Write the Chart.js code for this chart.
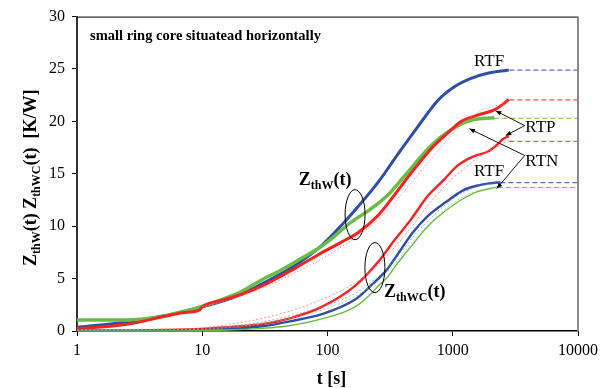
<!DOCTYPE html>
<html><head><meta charset="utf-8">
<script src="https://cdn.jsdelivr.net/npm/chart.js@4.4.0/dist/chart.umd.min.js"></script>
<style>html,body{margin:0;padding:0;background:#fff}#wrap{width:603px;height:388px}</style>
</head><body><div id="wrap"><canvas id="c" width="603" height="388"></canvas></div>
<script>
// ---- axis ticks ----
const xTicks = [1, 10, 100, 1000, 10000];
const yTicks = [0, 5, 10, 15, 20, 25, 30];

// ---- Z_thW(t) measured curves ----
const rtfW_t = [1,2,3,5,7,10,15,20,30,46,59,85,100,139,182,254,366,527,760,1031,1397,1896,2800];
const rtfW_z = [0.35,0.72,1.0,1.45,1.85,2.3,2.9,3.45,4.5,5.7,6.5,7.9,8.7,10.5,12.1,14.2,16.9,19.5,22.0,23.3,24.1,24.6,24.9];
const rtnW_t = [1,2,3,5,7,10,15,20,30,41,59,85,100,155,225,305,413,673,970,1397,2150];
const rtnW_z = [1.05,1.05,1.1,1.45,1.85,2.35,3.1,3.7,4.9,5.7,6.8,7.9,8.5,10.4,11.7,13.0,14.8,17.7,19.2,20.1,20.35];
const rtpW_t = [1,2,3,5,7,9.5,10,15,20,30,50,59,85,130,176,254,305,467,673,913,1164,1578,2143,2495,2800];
const rtpW_z = [0.22,0.5,0.82,1.4,1.75,2.0,2.3,3.0,3.45,4.3,5.7,6.2,7.3,8.5,9.4,11.05,12.2,15.1,17.4,18.9,20.0,20.6,21.1,21.6,22.1];

// ---- Z_thWC(t) measured curves ----
const rtpWC_t = [1,2,5,10,20,30,50,90,166,254,344,467,633,860,1096,1316,1578,1896,2275,2500,2800];
const rtpWC_z = [0.05,0.05,0.1,0.2,0.45,0.65,1.2,2.3,4.3,6.6,8.7,10.7,12.9,14.5,15.8,16.4,16.8,17.1,17.8,18.3,18.6];
const rtfWC_t = [1,5,10,20,30,49,90,166,225,300,344,480,650,880,1200,1600,2000,2400];
const rtfWC_z = [0.0,0.05,0.1,0.25,0.45,0.9,1.6,3.0,4.4,5.9,6.9,9.4,11.1,12.3,13.4,13.9,14.1,14.2];
const rtnWC_t = [1,5,10,20,30,49,90,166,225,254,305,344,467,633,860,1164,1578,2000,2300];
const rtnWC_z = [0.0,0.0,0.05,0.15,0.25,0.5,1.15,2.3,3.6,4.3,5.2,6.1,8.1,10.0,11.4,12.5,13.3,13.6,13.75];

// ---- model (dotted) curves ----
const modW_t = [10,20,30,50,100,200,300,500,1000,1600,2800];
const modW_z = [2.3,3.3,4.1,5.3,7.2,9.6,11.5,14.6,18.8,20.9,21.8];
const modPWC_t = [1,3,10,20,30,50,90,166,254,344,467,633,860,1096,1578,2275,2800];
const modPWC_z = [0.1,0.15,0.3,0.8,1.2,1.9,3.0,4.6,6.3,8.0,9.9,12.0,13.8,15.0,16.5,17.6,18.2];
const modFWC_t = [1,3,10,20,30,50,90,166,254,344,500,700,1000,1500,2400];
const modFWC_z = [0.05,0.1,0.2,0.55,0.85,1.45,2.3,3.6,5.2,6.8,9.2,11.0,12.6,13.7,14.2];
const modNWC_t = [1,3,10,20,30,50,90,166,254,344,500,700,1000,1500,2300];
const modNWC_z = [0.1,0.12,0.15,0.45,0.7,1.2,2.0,3.3,4.8,6.4,8.8,10.6,12.2,13.3,13.7];

// ---- steady-state (dashed) levels: start time, level ----
const steadyStart = [2830, 2830, 2150, 2830, 2400, 2300];
const steadyLevel = [24.9, 22.05, 20.3, 18.1, 14.15, 13.7];

const BLUE = '#2f4ea8', RED = '#f52323', GREEN = '#68bd44';
const steadyColor = [BLUE, RED, GREEN, RED, BLUE, GREEN];

const pts = (t, z) => t.map((v, i) => ({x: v, y: z[i]}));
const line = (t, z, color, w, extra) => Object.assign({
  data: pts(t, z), borderColor: color, borderWidth: w, pointRadius: 0,
  cubicInterpolationMode: 'monotone', fill: false
}, extra || {});

const datasets = [
  line(modW_t, modW_z, 'rgba(245,120,120,0.8)', 1, {borderDash: [1.5, 2]}),
  line(modPWC_t, modPWC_z, 'rgba(245,120,120,0.8)', 1, {borderDash: [2, 2]}),
  line(modFWC_t, modFWC_z, 'rgba(120,140,200,0.7)', 1, {borderDash: [2, 2]}),
  line(modNWC_t, modNWC_z, 'rgba(150,200,130,0.7)', 1, {borderDash: [2, 2]}),
  line(rtnWC_t, rtnWC_z, GREEN, 1.4),
  line(rtfWC_t, rtfWC_z, BLUE, 2.4),
  line(rtpWC_t, rtpWC_z, RED, 2.4),
  line(rtpW_t, rtpW_z, RED, 3),
  line(rtnW_t, rtnW_z, GREEN, 3.4),
  line(rtfW_t, rtfW_z, BLUE, 3),
];
steadyStart.forEach((s, i) => {
  datasets.push({data: [{x: s, y: steadyLevel[i]}, {x: 10000, y: steadyLevel[i]}],
    borderColor: steadyColor[i], borderWidth: 1, borderDash: [5, 3], pointRadius: 0, fill: false});
});

const SERIF = '"Liberation Serif", "Times New Roman", serif';

function richText(ctx, parts, x, y) {
  let cx = x;
  for (const [txt, size, dy] of parts) {
    ctx.font = 'bold ' + size + 'px ' + SERIF;
    ctx.fillText(txt, cx, y + dy);
    cx += ctx.measureText(txt).width;
  }
  return cx - x;
}
function richWidth(ctx, parts) {
  let w = 0;
  for (const [txt, size] of parts) { ctx.font = 'bold ' + size + 'px ' + SERIF; w += ctx.measureText(txt).width; }
  return w;
}
function arrow(ctx, x1, y1, x2, y2) {
  ctx.beginPath(); ctx.moveTo(x1, y1); ctx.lineTo(x2, y2); ctx.stroke();
  const a = Math.atan2(y2 - y1, x2 - x1), L = 6, W = 0.4;
  ctx.beginPath();
  ctx.moveTo(x2, y2);
  ctx.lineTo(x2 - L * Math.cos(a - W), y2 - L * Math.sin(a - W));
  ctx.lineTo(x2 - L * Math.cos(a + W), y2 - L * Math.sin(a + W));
  ctx.closePath(); ctx.fill();
}

const annot = {
  id: 'annot',
  afterDraw(chart) {
    const ctx = chart.ctx, xs = chart.scales.x, ys = chart.scales.y, ca = chart.chartArea;
    const X = v => xs.getPixelForValue(v), Y = v => ys.getPixelForValue(v);
    ctx.save();
    ctx.strokeStyle = '#000'; ctx.lineWidth = 1;
    ctx.beginPath(); ctx.moveTo(ca.left, ca.top + 0.5); ctx.lineTo(ca.right, ca.top + 0.5); ctx.stroke();
    ctx.strokeStyle = '#8a8a8a'; ctx.lineWidth = 2;
    ctx.beginPath(); ctx.moveTo(ca.right, ca.top); ctx.lineTo(ca.right, ca.bottom); ctx.stroke();

    ctx.fillStyle = '#000'; ctx.textBaseline = 'alphabetic';
    ctx.font = 'bold 14.5px ' + SERIF; ctx.textAlign = 'left';
    ctx.fillText('small ring core situatead horizontally', X(1.27), Y(27.8));
    ctx.font = '17px ' + SERIF;
    ctx.textAlign = 'center';
    ctx.fillText('RTF', X(1950), Y(25.3));
    ctx.fillText('RTF', X(1950), Y(14.8));
    ctx.textAlign = 'left';
    ctx.fillText('RTP', X(3800), Y(18.95));
    ctx.fillText('RTN', X(3800), Y(15.75));
    ctx.strokeStyle = '#000'; ctx.lineWidth = 0.9;
    arrow(ctx, X(3755), Y(19.6), X(2206), Y(21.0));
    arrow(ctx, X(3755), Y(19.6), X(2649), Y(18.65));
    arrow(ctx, X(3755), Y(16.75), X(1356), Y(19.3));
    arrow(ctx, X(3755), Y(16.75), X(2248), Y(13.6));
    ctx.lineWidth = 1;
    ctx.beginPath(); ctx.ellipse(X(166), Y(11.1), 10, 25, 0, 0, Math.PI * 2); ctx.stroke();
    ctx.beginPath(); ctx.ellipse(X(239), Y(6.05), 10, 25, 0, 0, Math.PI * 2); ctx.stroke();
    ctx.textAlign = 'left';
    richText(ctx, [['Z', 18, 0], ['thW', 12, 4], ['(t)', 18, 0]], X(59), Y(13.9));
    richText(ctx, [['Z', 18, 0], ['thWC', 12, 4], ['(t)', 18, 0]], X(283), Y(3.2));
    const yparts = [['Z', 18, 0], ['thW', 12, 4], ['(t) ', 18, 0], ['Z', 18, 0], ['thWC', 12, 4], ['(t)  [K/W]', 18, 0]];
    const w = richWidth(ctx, yparts);
    ctx.save();
    ctx.translate(36, (ca.top + ca.bottom) / 2 + 4);
    ctx.rotate(-Math.PI / 2);
    richText(ctx, yparts, -w / 2, 0);
    ctx.restore();
    ctx.font = 'bold 18px ' + SERIF; ctx.textAlign = 'center';
    ctx.fillText('t [s]', (ca.left + ca.right) / 2 + 4, 384);
    ctx.restore();
  }
};

new Chart(document.getElementById('c'), {
  type: 'line',
  data: {datasets},
  options: {
    responsive: false, animation: false, parsing: true,
    layout: {padding: {top: 12, right: 22, left: 0, bottom: 0}},
    plugins: {legend: {display: false}, tooltip: {enabled: false}},
    scales: {
      x: {
        type: 'logarithmic', min: 1, max: 10000,
        afterBuildTicks: s => { s.ticks = xTicks.map(v => ({value: v})); },
        afterFit: s => { s.height = 57; },
        ticks: {callback: v => String(v), font: {family: SERIF, size: 16}, color: '#000', padding: 5, maxRotation: 0, autoSkip: false},
        grid: {drawOnChartArea: false, drawTicks: true, tickLength: 5, color: '#000', lineWidth: 1},
        border: {display: true, color: '#000', width: 1.5}
      },
      y: {
        min: 0, max: 30,
        afterBuildTicks: s => { s.ticks = yTicks.map(v => ({value: v})); },
        afterFit: s => { s.width = 77; },
        ticks: {font: {family: SERIF, size: 16}, color: '#000', padding: 7},
        grid: {drawOnChartArea: false, drawTicks: true, tickLength: 5, color: '#000', lineWidth: 1},
        border: {display: true, color: '#333', width: 2}
      }
    }
  },
  plugins: [annot]
});
</script>
</body></html>
